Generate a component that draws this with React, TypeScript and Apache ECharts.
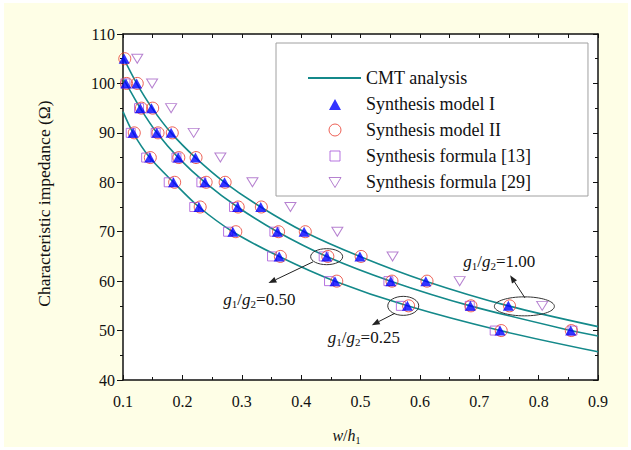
import React, { useEffect, useRef } from 'react';
import * as echarts from 'echarts';

const FONT = '"Liberation Serif", "Times New Roman", Times, serif';
const TEAL = '#14898a';
const BLUE = '#0000ff';
const RED = '#e8392c';
const PURPLE = '#a552d8';
const VIOLET = '#a461c4';

// impedance levels (Ω) for each curve
const zTop = [105, 100, 95, 90, 85, 80, 75, 70, 65, 60, 55];
const zMid = [100, 95, 90, 85, 80, 75, 70, 65, 60, 55, 50];
const zBot = [90, 85, 80, 75, 70, 65, 60, 55, 50];

// CMT analysis curves
const cmtTopX = [0.1, 0.123, 0.149, 0.181, 0.222, 0.271, 0.332, 0.405, 0.499, 0.61, 0.749, 0.9];
const cmtTopY = [105.3, 100, 95, 90, 85, 80, 75, 70, 65, 60, 55, 50.8];
const cmtMidX = [0.1, 0.105, 0.129, 0.157, 0.193, 0.238, 0.293, 0.36, 0.443, 0.551, 0.685, 0.854, 0.9];
const cmtMidY = [101.0, 100, 95, 90, 85, 80, 75, 70, 65, 60, 55, 50, 48.9];
const cmtBotX = [0.1, 0.117, 0.145, 0.185, 0.228, 0.285, 0.363, 0.457, 0.579, 0.735, 0.9];
const cmtBotY = [94.3, 90, 85, 80, 75, 70, 65, 60, 55, 50, 45.7];

// Synthesis model I (w/h1)
const m1Top = [0.102, 0.123, 0.148, 0.181, 0.222, 0.271, 0.332, 0.405, 0.499, 0.61, 0.749];
const m1Mid = [0.105, 0.129, 0.157, 0.193, 0.238, 0.293, 0.36, 0.443, 0.551, 0.685, 0.854];
const m1Bot = [0.117, 0.145, 0.185, 0.228, 0.285, 0.363, 0.457, 0.579, 0.735];

// Synthesis model II
const m2Top = [0.103, 0.124, 0.15, 0.183, 0.223, 0.272, 0.333, 0.407, 0.501, 0.612, 0.751];
const m2Mid = [0.106, 0.131, 0.159, 0.194, 0.24, 0.294, 0.362, 0.445, 0.553, 0.686, 0.855];
const m2Bot = [0.119, 0.146, 0.187, 0.23, 0.29, 0.365, 0.46, 0.581, 0.737];

// Synthesis formula [13]
const f13Mid = [0.104, 0.127, 0.155, 0.19, 0.232, 0.287, 0.355, 0.438, 0.547, 0.684, 0.857];
const f13Bot = [0.113, 0.139, 0.177, 0.22, 0.277, 0.351, 0.447, 0.568, 0.726];

// Synthesis formula [29]
const f29Top = [0.124, 0.149, 0.181, 0.219, 0.264, 0.318, 0.382, 0.461, 0.554, 0.667, 0.806];

const xTicks = [0.1, 0.9, 0.1];
const yTicks = [40, 110, 10];

const yAxisTitle = 'Characteristic impedance (Ω)';

// legend icons (drawn inside a 53 x 12 box)
const ICON_TRI = 'path://M0,0M53,12M21,12L27,1L33,12Z';
const ICON_CIRCLE = 'path://M0,0M53,12M21,6A6,6,0,1,1,33,6A6,6,0,1,1,21,6Z';
const ICON_SQUARE = 'path://M0,0M53,12M22,1L32,1L32,11L22,11Z';
const ICON_DOWN = 'path://M0,0M53,12M21,1.5L33,1.5L27,11.5Z';

// annotations (data units)
const ellipses = [
  { c: [0.443, 64.95], rx: 16, ry: 8 },
  { c: [0.572, 55.0], rx: 15.5, ry: 9.5 },
  { c: [0.776, 54.9], rx: 30, ry: 9.5 },
];
const arrows = [
  { from: [0.42, 63.9], to: [0.345, 59.6] },
  { from: [0.558, 53.5], to: [0.519, 51.1] },
  { from: [0.777, 56.6], to: [0.752, 61.2] },
];
const labels = [
  { at: [0.269, 56.2], ratio: '0.50' },
  { at: [0.445, 48.6], ratio: '0.25' },
  { at: [0.673, 63.9], ratio: '1.00' },
];

const zip = (xs: number[], ys: number[]) => xs.map((x, i) => [x, ys[i]]);

export default function App() {
  const ref = useRef<HTMLDivElement>(null);
  useEffect(() => {
    const chart = echarts.init(ref.current!, null, { renderer: 'svg' });
    const axisLine = { show: true, onZero: false, lineStyle: { color: '#111', width: 1.5 } };
    const tickStyle = { color: '#111', width: 1 };
    const lineSeries = (data: number[][]) => ({
      type: 'line', name: 'CMT analysis', data, symbol: 'none', smooth: 0.3,
      lineStyle: { color: TEAL, width: 1.6 }, itemStyle: { color: TEAL }, z: 1, silent: true,
    });
    const option: any = {
      animation: false,
      backgroundColor: '#ffffff',
      grid: { left: 123, right: 33, top: 34, bottom: 70, show: true, backgroundColor: '#ffffff', borderWidth: 0 },
      legend: {
        orient: 'vertical', left: 276, top: 43,
        padding: [26, 57, 5, 31],
        itemWidth: 53, itemHeight: 12, itemGap: 8,
        backgroundColor: '#ffffff', borderColor: '#a0a0a0', borderWidth: 1,
        textStyle: { fontFamily: FONT, fontSize: 18, color: '#111', lineHeight: 18 },
        itemStyle: { borderWidth: 1 },
        selectedMode: false,
        data: [
          { name: 'CMT analysis', itemStyle: { color: 'rgba(0,0,0,0)', borderWidth: 0, borderColor: 'rgba(0,0,0,0)' } },
          { name: 'Synthesis model I', icon: ICON_TRI },
          { name: 'Synthesis model II', icon: ICON_CIRCLE },
          { name: 'Synthesis formula [13]', icon: ICON_SQUARE },
          { name: 'Synthesis formula [29]', icon: ICON_DOWN },
        ],
      },
      xAxis: [
        {
          type: 'value', position: 'bottom', min: xTicks[0], max: xTicks[1], interval: xTicks[2],
          axisLine, splitLine: { show: false },
          axisTick: { show: true, inside: true, length: 5, lineStyle: tickStyle },
          minorTick: { show: true, splitNumber: 2, length: 3, lineStyle: tickStyle },
          axisLabel: { fontFamily: FONT, fontSize: 16, color: '#111', margin: 13, formatter: (v: number) => v.toFixed(1) },
          name: '{i|w}/{i|h}{s|1}', nameLocation: 'middle', nameGap: 45,
          nameTextStyle: {
            fontFamily: FONT, fontSize: 16, color: '#111', lineHeight: 20, padding: [0, 28, 0, 0],
            rich: {
              i: { fontFamily: FONT, fontSize: 16, fontStyle: 'italic', color: '#111', lineHeight: 20 },
              s: { fontFamily: FONT, fontSize: 10, color: '#111', lineHeight: 9, verticalAlign: 'bottom' },
            },
          },
        },
        {
          type: 'value', position: 'top', min: xTicks[0], max: xTicks[1], interval: xTicks[2],
          axisLine, splitLine: { show: false },
          axisTick: { show: true, inside: true, length: 4, lineStyle: tickStyle },
          minorTick: { show: true, splitNumber: 2, length: 4, lineStyle: tickStyle },
          axisLabel: { show: false },
        },
      ],
      yAxis: [
        {
          type: 'value', position: 'left', min: yTicks[0], max: yTicks[1], interval: yTicks[2],
          axisLine, splitLine: { show: false },
          axisTick: { show: true, inside: false, length: 6, lineStyle: tickStyle },
          minorTick: { show: true, splitNumber: 2, length: 3, lineStyle: tickStyle },
          axisLabel: { fontFamily: FONT, fontSize: 16, color: '#111', margin: 8 },
        },
        {
          type: 'value', position: 'right', min: yTicks[0], max: yTicks[1], interval: yTicks[2],
          axisLine, splitLine: { show: false },
          axisTick: { show: true, inside: true, length: 5, lineStyle: tickStyle },
          minorTick: { show: true, splitNumber: 2, length: 3, lineStyle: tickStyle },
          axisLabel: { show: false },
        },
      ],
      series: [
        lineSeries(zip(cmtTopX, cmtTopY)),
        lineSeries(zip(cmtMidX, cmtMidY)),
        lineSeries(zip(cmtBotX, cmtBotY)),
        {
          type: 'scatter', name: 'Synthesis formula [13]', symbol: 'rect', symbolSize: 9, z: 2, silent: true,
          data: [...zip(f13Mid, zMid), ...zip(f13Bot, zBot)],
          itemStyle: { color: 'rgba(0,0,0,0)', borderColor: PURPLE, borderWidth: 1 },
        },
        {
          type: 'scatter', name: 'Synthesis model II', symbol: 'circle', symbolSize: 12, z: 3, silent: true,
          data: [...zip(m2Top, zTop), ...zip(m2Mid, zMid), ...zip(m2Bot, zBot)],
          itemStyle: { color: 'rgba(0,0,0,0)', borderColor: RED, borderWidth: 1 },
        },
        {
          type: 'scatter', name: 'Synthesis formula [29]', symbol: 'path://M0,0L12,0L6,10Z', symbolSize: [11, 9], z: 3, silent: true,
          data: zip(f29Top, zTop),
          itemStyle: { color: 'rgba(0,0,0,0)', borderColor: VIOLET, borderWidth: 1 },
        },
        {
          type: 'scatter', name: 'Synthesis model I', symbol: 'triangle', symbolSize: [11, 10], z: 4, silent: true,
          data: [...zip(m1Top, zTop), ...zip(m1Mid, zMid), ...zip(m1Bot, zBot)],
          itemStyle: { color: BLUE },
        },
      ],
    };
    chart.setOption(option);

    const toPx = (p: number[]) => chart.convertToPixel({ gridIndex: 0 }, p) as number[];
    const graphics: any[] = [
      { type: 'rect', z: -10, silent: true, shape: { x: 4, y: 3, width: 624, height: 444 }, style: { fill: '#fefee6' } },
      {
        type: 'text', z: 10, silent: true, x: 44, y: 203.5, rotation: Math.PI / 2,
        style: { text: yAxisTitle, fontFamily: FONT, fontSize: 17.5, fill: '#111', align: 'center', verticalAlign: 'middle' },
      },
    ];
    ellipses.forEach((e) => {
      const [cx, cy] = toPx(e.c);
      graphics.push({ type: 'ellipse', z: 10, silent: true, shape: { cx, cy, rx: e.rx, ry: e.ry }, style: { fill: 'none', stroke: '#333', lineWidth: 1 } });
    });
    arrows.forEach((a) => {
      const [x1, y1] = toPx(a.from);
      const [x2, y2] = toPx(a.to);
      const dx = x2 - x1, dy = y2 - y1;
      const len = Math.sqrt(dx * dx + dy * dy);
      const ux = dx / len, uy = dy / len;
      const hl = 8, hw = 3;
      const bx = x2 - ux * hl, by = y2 - uy * hl;
      graphics.push({ type: 'line', z: 10, silent: true, shape: { x1, y1, x2: bx, y2: by }, style: { stroke: '#222', lineWidth: 1 } });
      graphics.push({
        type: 'polygon', z: 10, silent: true,
        shape: { points: [[x2, y2], [bx - uy * hw, by + ux * hw], [bx + uy * hw, by - ux * hw]] },
        style: { fill: '#222' },
      });
    });
    labels.forEach((l) => {
      const [x, y] = toPx(l.at);
      graphics.push({
        type: 'text', z: 10, silent: true, x, y,
        style: {
          text: `{i|g}{s|1}{n|/}{i|g}{s|2}{n|=${l.ratio}}`,
          align: 'left', verticalAlign: 'middle',
          rich: {
            i: { fontFamily: FONT, fontSize: 17, fontStyle: 'italic', fill: '#111', lineHeight: 20 },
            n: { fontFamily: FONT, fontSize: 17, fill: '#111', lineHeight: 20 },
            s: { fontFamily: FONT, fontSize: 11, fill: '#111', lineHeight: 9, verticalAlign: 'bottom' },
          },
        },
      });
    });
    chart.setOption({ graphic: graphics });

    return () => chart.dispose();
  }, []);
  return <div ref={ref} style={{ position: 'absolute', left: 0, top: 0, width: 631, height: 450 }} />;
}
